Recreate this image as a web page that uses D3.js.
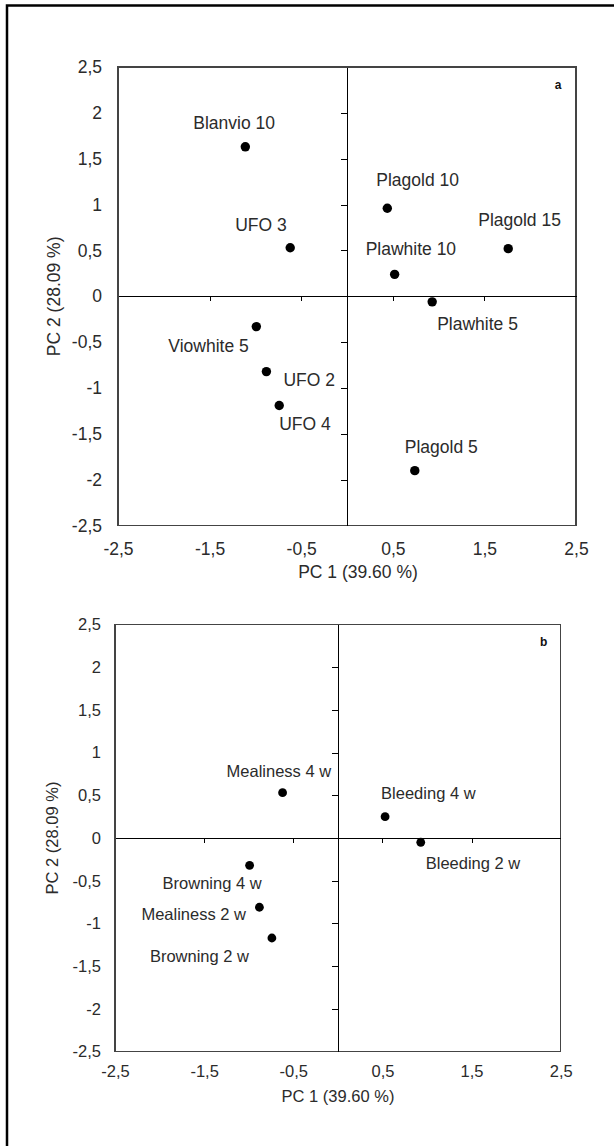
<!DOCTYPE html>
<html>
<head>
<meta charset="utf-8">
<script src="https://cdn.jsdelivr.net/npm/d3@7"></script>
<style>
  body { margin: 0; background: #fff; }
  text { font-family: Arial, "Liberation Sans", sans-serif; }
</style>
</head>
<body>
<div id="vis"></div>
<script>
// PCA score plot (a) and attribute plot (b)

var namesA = ["Blanvio 10", "UFO 3", "Viowhite 5", "UFO 2", "UFO 4",
              "Plagold 10", "Plawhite 10", "Plawhite 5", "Plagold 15", "Plagold 5"];
var pc1A = [-1.11, -0.62, -0.99, -0.88, -0.74, 0.44, 0.52, 0.93, 1.76, 0.74];
var pc2A = [1.63, 0.53, -0.33, -0.82, -1.19, 0.96, 0.24, -0.06, 0.52, -1.90];

var namesB = ["Mealiness 4 w", "Bleeding 4 w", "Bleeding 2 w",
              "Browning 4 w", "Mealiness 2 w", "Browning 2 w"];
var pc1B = [-0.62, 0.53, 0.93, -0.99, -0.88, -0.74];
var pc2B = [0.53, 0.25, -0.05, -0.32, -0.81, -1.17];

var xTickLabels = [-2.5, -1.5, -0.5, 0.5, 1.5, 2.5];
var yTickLabels = [-2.5, -2, -1.5, -1, -0.5, 0, 0.5, 1, 1.5, 2, 2.5];
var xZeroTicks = [-1.5, -0.5, 0.5, 1.5];
var yZeroTicks = [-2, -1.5, -1, -0.5, 0.5, 1, 1.5, 2];
var xTitle = "PC 1 (39.60 %)";
var yTitle = "PC 2 (28.09 %)";

// label placement (px offset from the dot: text start, baseline)
var offA = [[-52, -18], [-55, -17], [-88, 25], [17, 14], [0, 24],
            [-11, -22], [-29, -19], [5, 28], [-30, -23], [-10, -18]];
var offB = [[-56, -16], [-4, -18], [5, 27], [-87, 24], [-118, 13], [-122, 24]];

var width = 614;
var height = 1146;
var ink = "#2b2b2b";

var fmt = d3.formatLocale({
  decimal: ",", thousands: ".", grouping: [3], currency: ["", ""], minus: "-"
}).format(".1~f");

var svg = d3.select("#vis")
        .append("svg")
        .attr("width", width)
        .attr("height", height);

// outer frame (left and top only, the rest is cut off)
svg.append("path")
        .attr("d", "M7,1146 V5.5 H614")
        .attr("fill", "none")
        .attr("stroke", "#000")
        .attr("stroke-width", 2.5);

function drawPanel(p) {
  var x = d3.scaleLinear().domain([-2.5, 2.5]).range([p.left, p.right]);
  var y = d3.scaleLinear().domain([-2.5, 2.5]).range([p.bottom, p.top]);
  var g = svg.append("g");

  g.append("rect")
        .attr("x", p.left)
        .attr("y", p.top)
        .attr("width", p.right - p.left)
        .attr("height", p.bottom - p.top)
        .attr("fill", "none")
        .attr("stroke", "#444")
        .attr("stroke-width", 1.2)
        .style("shape-rendering", "crispEdges");

  // zero lines with their tick marks
  var xZero = g.append("g")
        .attr("transform", "translate(0," + y(0) + ")")
        .call(d3.axisBottom(x).tickValues(xZeroTicks).tickSize(5).tickSizeOuter(0).tickFormat(""));
  var yZero = g.append("g")
        .attr("transform", "translate(" + x(0) + ",0)")
        .call(d3.axisLeft(y).tickValues(yZeroTicks).tickSize(6).tickSizeOuter(0).tickFormat(""));
  [xZero, yZero].forEach(function(a) {
    a.selectAll("path, line").attr("stroke", "#000").style("shape-rendering", "crispEdges");
  });

  // tick labels along the plot border
  var xLab = g.append("g")
        .attr("transform", "translate(0," + p.bottom + ")")
        .call(d3.axisBottom(x).tickValues(xTickLabels).tickSize(0).tickPadding(p.xPad).tickFormat(fmt));
  var yLab = g.append("g")
        .attr("transform", "translate(" + p.left + ",0)")
        .call(d3.axisLeft(y).tickValues(yTickLabels).tickSize(0).tickPadding(p.yPad).tickFormat(fmt));
  [xLab, yLab].forEach(function(a) {
    a.select(".domain").remove();
    a.selectAll("text")
        .attr("fill", ink)
        .style("font-size", p.font + "px")
        .style("font-family", "Arial, 'Liberation Sans', sans-serif");
  });

  g.append("text")
        .attr("x", p.xTitleX)
        .attr("y", p.xTitleY)
        .attr("text-anchor", "middle")
        .attr("fill", ink)
        .style("font-size", p.font + "px")
        .text(xTitle);

  g.append("text")
        .attr("transform", "translate(" + p.yTitleX + "," + (p.top + p.bottom) / 2 + ") rotate(-90)")
        .attr("text-anchor", "middle")
        .attr("fill", ink)
        .style("font-size", p.font + "px")
        .text(yTitle);

  g.append("text")
        .attr("x", p.right - p.tagDx)
        .attr("y", p.top + p.tagDy)
        .attr("text-anchor", "middle")
        .attr("fill", "#111")
        .style("font-size", "12px")
        .style("font-weight", "bold")
        .text(p.tag);

  var rows = p.names.map(function(n, i) {
    return { name: n, pc1: p.pc1[i], pc2: p.pc2[i], off: p.off[i] };
  });

  g.selectAll(".dot")
        .data(rows)
        .enter()
        .append("circle")
        .attr("class", "dot")
        .attr("cx", function(d) { return x(d.pc1); })
        .attr("cy", function(d) { return y(d.pc2); })
        .attr("r", p.r)
        .attr("fill", "#000");

  g.selectAll(".lbl")
        .data(rows)
        .enter()
        .append("text")
        .attr("class", "lbl")
        .attr("x", function(d) { return x(d.pc1) + d.off[0]; })
        .attr("y", function(d) { return y(d.pc2) + d.off[1]; })
        .attr("fill", ink)
        .style("font-size", p.font + "px")
        .text(function(d) { return d.name; });
}

drawPanel({
  left: 118, right: 576, top: 67, bottom: 525.7,
  font: 17.5, xPad: 17, yPad: 16, r: 4.7,
  xTitleX: 358, xTitleY: 578, yTitleX: 60,
  tag: "a", tagDx: 18, tagDy: 22,
  names: namesA, pc1: pc1A, pc2: pc2A, off: offA
});

drawPanel({
  left: 115, right: 560.7, top: 624.3, bottom: 1051.7,
  font: 16.5, xPad: 14, yPad: 14, r: 4.4,
  xTitleX: 338, xTitleY: 1102, yTitleX: 58,
  tag: "b", tagDx: 17, tagDy: 22,
  names: namesB, pc1: pc1B, pc2: pc2B, off: offB
});
</script>
</body>
</html>
